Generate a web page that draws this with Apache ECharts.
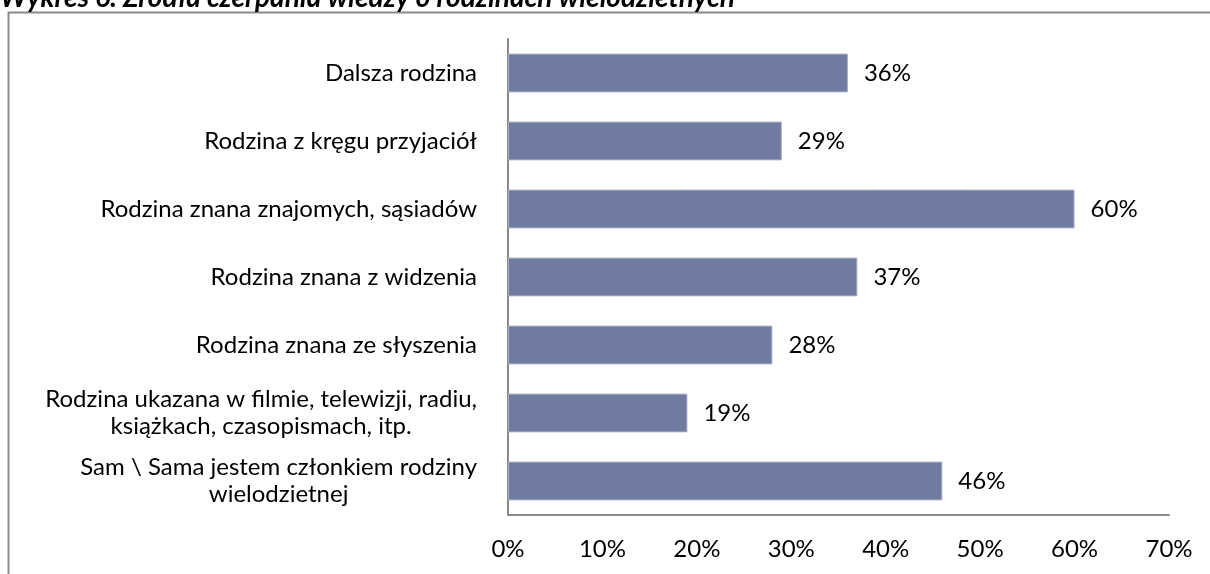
<!DOCTYPE html>
<html>
<head>
<meta charset="utf-8">
<script src="https://cdn.jsdelivr.net/npm/echarts@6/dist/echarts.min.js"></script>
<style>html,body{margin:0;padding:0;background:#fff}#c{width:1210px;height:574px}</style>
</head>
<body>
<div id="c"></div>
<script>
const titleText = 'Wykres 6. Źródła czerpania wiedzy o rodzinach wielodzietnych';
const categories = [
  'Dalsza rodzina',
  'Rodzina z kręgu przyjaciół',
  'Rodzina znana znajomych, sąsiadów',
  'Rodzina znana z widzenia',
  'Rodzina znana ze słyszenia',
  'Rodzina ukazana w filmie, telewizji, radiu,\nksiążkach, czasopismach, itp.',
  'Sam \\ Sama jestem członkiem rodziny\nwielodzietnej'
];
const values = [36, 29, 60, 37, 28, 19, 46];
const xTicks = [0, 10, 20, 30, 40, 50, 60, 70];

const FONT = 'Lato';
const FS = 24;
const chart = echarts.init(document.getElementById('c'));
chart.setOption({
  animation: false,
  graphic: [
    { type: 'rect', shape: { x: 8.5, y: 12.5, width: 1400, height: 800 },
      style: { fill: 'none', stroke: '#8a8a8a', lineWidth: 2 }, z: 0 },
    { type: 'text', x: 0, y: 12,
      style: { text: titleText, font: 'italic bold 28px ' + FONT, fill: '#000', verticalAlign: 'bottom' } }
  ],
  grid: { left: 508, right: 41, top: 39, bottom: 59, containLabel: false },
  xAxis: {
    type: 'value', min: xTicks[0], max: xTicks[xTicks.length - 1], interval: 10,
    axisLine: { show: true, lineStyle: { color: '#8a8a8a', width: 2 } },
    axisTick: { show: false },
    splitLine: { show: false },
    axisLabel: { formatter: v => v + '%', fontFamily: FONT, fontSize: FS, color: '#000', margin: 22 }
  },
  yAxis: {
    type: 'category', inverse: true, data: categories,
    axisLine: { show: true, lineStyle: { color: '#8a8a8a', width: 2 } },
    axisTick: { show: false },
    axisLabel: {
      fontFamily: FONT, fontSize: FS, color: '#000', margin: 31, lineHeight: 27,
      formatter: v => v.split('\n').map(l => '{c|' + l + '}').join('\n'),
      rich: { c: { align: 'center', fontFamily: FONT, fontSize: FS, color: '#000', lineHeight: 27 } }
    }
  },
  series: [{
    type: 'bar', data: values, barCategoryGap: '43%',
    itemStyle: { color: '#717ba1', borderColor: '#aab0c9', borderWidth: 1 },
    label: { show: true, position: 'right', distance: 16, formatter: p => p.value + '%',
      fontFamily: FONT, fontSize: FS, color: '#000' }
  }]
});
</script>
</body>
</html>
